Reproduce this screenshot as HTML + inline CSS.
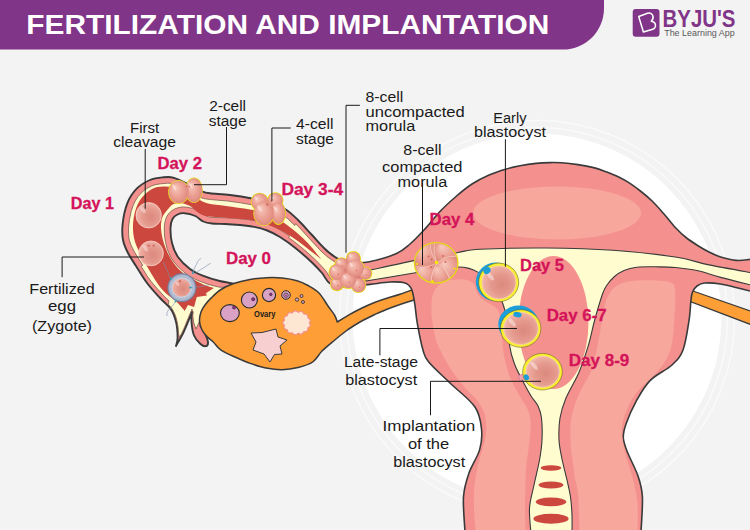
<!DOCTYPE html>
<html>
<head>
<meta charset="utf-8">
<title>Fertilization and Implantation</title>
<style>
html,body{margin:0;padding:0;background:#f3f3f3;}
body{width:750px;height:530px;overflow:hidden;position:relative;font-family:"Liberation Sans",sans-serif;}
svg{position:absolute;left:0;top:0;display:block;}
text{font-family:"Liberation Sans",sans-serif;}
.lb{font-size:15.500px;fill:#1a1a1a;}
.day{font-size:16.500px;font-weight:bold;fill:#d4145a;stroke:#d4145a;stroke-width:0.300px;}
.ld{fill:none;stroke:#1a1a1a;stroke-width:1;}
</style>
</head>
<body>
<svg width="750" height="530" viewBox="0 0 750 530">
<defs>
<radialGradient id="cell" cx="0.58" cy="0.56" r="0.64">
<stop offset="0" stop-color="#dc897d"/>
<stop offset="0.45" stop-color="#e4978b"/>
<stop offset="0.8" stop-color="#eeada1"/>
<stop offset="1" stop-color="#f5c3b8"/>
</radialGradient>
<radialGradient id="cell2" cx="0.5" cy="0.5" r="0.6" fx="0.3" fy="0.28">
<stop offset="0" stop-color="#f8cbc0"/>
<stop offset="0.5" stop-color="#eda497"/>
<stop offset="1" stop-color="#dc8176"/>
</radialGradient>
<radialGradient id="zona" cx="0.5" cy="0.5" r="0.5">
<stop offset="0.6" stop-color="#d5dbe8"/>
<stop offset="0.85" stop-color="#aeb9d0"/>
<stop offset="1" stop-color="#8c98b4"/>
</radialGradient>
</defs>

<!-- background -->
<rect width="750" height="530" fill="#f3f3f3"/>
<!-- watermark circle -->
<g id="wm">
<circle cx="537" cy="318" r="197.500" fill="none" stroke="#fafafa" stroke-width="1.500"/>
<circle cx="537" cy="318" r="190.500" fill="none" stroke="#fafafa" stroke-width="1.500"/>
<circle cx="537" cy="318" r="184.500" fill="#ffffff"/>
</g>

<!-- header -->
<path d="M0 0H604V8C604 31 586 49.600 562.700 49.600H0Z" fill="#813588"/>
<text x="26.300" y="34.300" font-size="28.200" font-weight="bold" fill="#ffffff" textLength="523" lengthAdjust="spacingAndGlyphs">FERTILIZATION AND IMPLANTATION</text>

<!-- logo -->
<g id="logo">
<rect x="632.700" y="9" width="26.800" height="27.700" rx="3" fill="#813588"/>
<path d="M638.700 16.500L647.500 13.300C652.500 11.800 655 17.500 651.300 21.200C656.500 22 657 28 652 29.500L643.400 32Z" fill="none" stroke="#ffffff" stroke-width="1.500" stroke-linejoin="round"/>
<text x="662.500" y="26.600" font-size="23" font-weight="bold" fill="#813588" textLength="73" lengthAdjust="spacingAndGlyphs">BYJU'S</text>
<text x="664.200" y="36" font-size="8.200" fill="#5a5a5a" textLength="70.500" lengthAdjust="spacingAndGlyphs">The Learning App</text>
</g>

<!-- DIAGRAM-START -->
<path d="M690 290L752 311.500V325L689 301Z" fill="#fd9f36" stroke="#3a3a3a" stroke-width="1.200"/>
<path d="M360 262C357.500 262 349.200 262.800 345 262C340.800 261.200 338.300 259.200 335 257C331.700 254.800 328.800 252.700 325 249C321.200 245.300 316.500 239.800 312 235C307.500 230.200 302.500 224.300 298 220C293.500 215.700 290 212 285 209C280 206 273.500 203.800 268 202C262.500 200.200 258.300 199.700 252 198.500C245.700 197.300 237 195.900 230 195C223 194.100 214.700 193.900 210 193.300C205.300 192.700 205.300 192.700 202 191.300C198.700 189.900 194.700 187.200 190 185C185.300 182.800 178.400 179.100 174 177.800C169.600 176.500 167.300 176.900 163.300 177.300C159.300 177.700 154.400 178.100 150 180C145.600 181.900 140.500 184.800 136.700 188.700C132.900 192.600 129.600 197.500 127.300 203.300C125 209.100 123.400 217.200 122.700 223.300C122 229.400 122.100 235.100 123 240C123.900 244.900 125.800 248.700 128 253C130.200 257.300 132.800 261 136 266C139.200 271 143 277.700 147 283C151 288.300 156.100 293.700 160 298C163.900 302.300 168 304.900 170.700 308.900C173.400 312.800 174.800 316.900 176 321.700C177.200 326.500 177.600 333.600 177.600 337.700C177.600 341.800 176.300 344.600 176 346C177.200 343.700 180.800 338 183.500 332.300C186.200 326.600 190.600 315.400 192 312C191.900 313.600 191.200 317.800 191.500 321.700C191.800 325.600 192.500 331.800 194 335.500C195.500 339.200 198.500 342.200 200.500 344C202.500 345.800 204.700 346.500 205.900 346.200C207.200 345.900 208.200 344.100 208 342C207.800 339.900 206.100 336.100 204.800 333.400C203.600 330.700 201.200 327.200 200.500 326L230 310L240 284.700C236.600 284.100 225.900 282.500 219.700 281C213.500 279.500 207.600 277.700 202.700 275.700C197.800 273.700 194.100 272.100 190 269C185.900 265.900 181 261.300 178 257C175 252.700 173.200 247.800 172 243C170.800 238.200 170.400 232 170.500 228C170.600 224 171.300 221.200 172.500 219C173.700 216.800 175.500 215.500 177.500 214.500C179.500 213.500 181.700 212.900 184.700 213.200C187.700 213.400 192.200 214.600 195.300 216C198.400 217.400 200.500 220.200 203.300 221.500C206.100 222.800 208.400 223.100 212 223.500C215.600 223.900 220.300 223.800 225 224C229.700 224.200 235.500 224.600 240 225C244.500 225.400 247.700 225.700 252 226.500C256.300 227.300 261.300 228.200 266 230C270.700 231.800 275 233.900 280 237C285 240.100 290.700 244.200 296 248.500C301.300 252.800 307.700 258.400 312 262.500C316.300 266.600 319 269.500 322 273C325 276.500 326.200 281.200 330 283.500C333.800 285.800 342.500 286.400 345 287L360 285L360 262Z" fill="#f4918e" stroke="#3a3a3a" stroke-width="1.900" stroke-linejoin="round"/>
<path d="M231.400 289.600L227.900 289L232 287L219.600 287.300L212 285.400L206 283.500L200.400 281.500L194.300 278.800L188.700 275.700L183.900 272.100L178.100 266.800L173.900 261.900L172 259.100L169.900 255.400L168.600 252.500L167.100 248.600L165.400 241.500L164.700 237.300L164.400 232.900L164.300 229L164.400 225.500L164.900 222.300L165.600 219.400L166.700 216.700L168 214.500L169.500 212.700L171.500 210.900L174.800 208.900L178.800 207.500L182.500 206.900L187.100 207.200L192.600 208.400L197.800 210.300L200.900 212.100L205.700 215.700L208.600 216.800L214.300 217.500L225.300 217.800L235.600 218.400L248.900 219.700L256.600 221.100L262.800 222.500L266.900 223.700L271.900 225.700L275.700 227.500L280.600 230.100L289.600 235.900L288.700 237.600L294.600 241.900L300.100 246.300L307.200 252.300L313.800 258.300L319.800 264.200L325.300 270.200L327 272.500L329.900 277.300L331.300 279.100L332.800 280.100L334.800 280.800L338.700 281.700L345.100 282.600L355.700 281.200L355.700 266.500L348.700 266.600L344.100 266.200L341.900 265.600L339.600 264.800L337.500 263.700L335 262.200L327.600 257L322 252.100L317.800 247.700L299.500 227.700L295.600 223.700L294.800 225.500L287.600 218.600L282.800 215L280.700 213.700L277.100 211.900L270.200 209.300L264.900 207.500L260.300 206.300L240.300 202.800L227.500 201L210.700 199.600L203.800 198.600L201.700 197.900L198.400 196.500L189.400 191.600L177.900 186L173.100 184L170.100 183.200L167.300 183.200L160.900 183.800L156.900 184.400L154.100 185.100L151.500 186.100L147.400 188.200L144.500 190.100L141.900 192.300L138 196.600L135.300 200.800L133.100 205.600L131.200 211.300L129.500 219.400L128.900 224L128.500 228.100L128.600 234.400L128.900 237.800L129.500 240.800L131.100 245.300L134 251.100L136.200 254.900L142.800 265.300L141 266.100L147.500 276.500L151.300 281.700L156.700 288.100L164 296.100L169 300.800L168.300 304.300L170.900 307.200L173 310.300L175 314.500L176.500 319L177.900 325.500L178.700 333.900L179.400 337.600L181.700 333.200L183.900 328.600L190.900 311.500L191.400 310.900L192 309L192.200 310.800L192.800 311.100L193.200 311.900L192.800 316L193.500 322L196 329L199.500 321L199.700 319.400L225.100 305.600Z" fill="#fffdd0" stroke="#6b4a44" stroke-width="0.700" stroke-linejoin="round"/>
<path d="M321 259C319.200 256.800 313.500 249.400 310 245.500C306.500 241.600 304.200 239.200 300 235.500C295.800 231.800 290.300 227.200 285 223.500C279.700 219.800 273.800 215.800 268 213.500C262.200 211.200 257 210.800 250 209.500C243 208.200 233 207 226 206C219 205 212.700 204.700 208 203.500C203.300 202.300 201.300 200.800 198 199C194.700 197.200 191.800 194.400 188 192.500C184.200 190.600 179.200 188.700 175 187.700C170.800 186.700 166.800 186.300 163 186.500C159.200 186.700 155.600 187.100 152 189C148.400 190.900 144.200 194.500 141.500 198C138.800 201.500 136.900 205.500 135.500 210C134.100 214.500 133.200 220 133 225C132.800 230 133.300 235.200 134.500 240C135.700 244.800 137.800 248.800 140 253.500C142.200 258.200 145.100 263 148 268C150.900 273 154.600 279.400 157.500 283.500C160.400 287.600 162.200 289.700 165.300 292.700C168.400 295.700 172.800 298.300 176 301.300C179.200 304.300 183.200 309.300 184.700 310.900L188 305L194.100 307.100L196.800 297L207 295.400L205.900 293.300L213.900 287.900C212 287.300 206.300 285.800 202.700 284.200C199 282.600 195.600 280.600 192 278.500C188.400 276.400 184.500 274.600 181 271.300C177.500 268.100 173.800 263.600 171 259C168.200 254.400 165.700 248.700 164 243.500C162.300 238.300 161.200 232.400 161 228C160.800 223.600 161.400 220 162.500 217C163.600 214 165.600 212.100 167.300 210C169 207.900 170.600 205.700 172.700 204.500C174.800 203.300 177.100 202.800 180 203C182.900 203.200 187 204.400 190 206C193 207.600 195.300 210.800 198 212.500C200.700 214.200 201.300 215.100 206 216C210.700 216.900 218.700 217.100 226 217.800C233.300 218.500 243.300 219 250 220C256.700 221 260.700 222.200 266 224C271.300 225.800 276.800 228.200 282 231C287.200 233.800 292.300 237.200 297 240.500C301.700 243.800 306 247.400 310 250.500C314 253.600 319.200 257.600 321 259Z" fill="#cc473e"/>
<path d="M337.300 322C336.900 320.900 336.200 318 334.700 315.300C333.100 312.600 330.600 309.700 328 306C325.400 302.300 322.300 296.400 319 293C315.700 289.600 311.700 287.600 308 285.500C304.300 283.400 301.300 281.900 297 280.700C292.700 279.400 287.100 278.500 282 278C276.900 277.500 272 277.400 266.700 277.700C261.400 277.900 255.600 278.500 250 279.500C244.400 280.500 237.800 282.100 233 283.800C228.200 285.500 224.600 287.200 221 289.500C217.400 291.800 214.200 295 211.500 297.600C208.800 300.200 206.800 302.600 205 305C203.200 307.400 201.900 309.400 201 312C200.100 314.600 199.400 317.800 199.500 320.600C199.600 323.400 200.300 326.300 201.600 329C202.800 331.700 205.100 334.400 207 336.600C208.900 338.800 211 339.800 213.300 342C215.600 344.200 217.100 347.300 220.700 349.800C224.300 352.300 229.900 354.700 235 357C240.100 359.300 245.800 361.800 251 363.600C256.200 365.400 260.800 367 266 368C271.200 369 276.700 369.800 282 369.700C287.300 369.600 292.900 368.800 298 367.500C303.100 366.200 308.700 364.800 312.700 362C316.700 359.200 318.600 354.400 322 351C325.400 347.600 328.900 344.900 333 341.500C337.100 338.100 342.200 333.800 346.700 330.500C351.200 327.200 355.600 324.600 360 322C364.400 319.400 368.800 317.300 373.300 315.200C377.800 313.100 382.600 311.100 387 309.300C391.400 307.500 394.500 306.400 400 304.500C405.500 302.600 416.700 299.100 420 298L416 288.500C413.300 289.500 405 292.600 400 294.300C395 296 390.400 297.100 386 298.500C381.600 299.900 377.500 301.300 373.300 303C369.100 304.700 365.100 306.500 361 308.500C356.900 310.500 352.900 312.600 349 314.800C345.100 317.100 339.200 320.800 337.300 322Z" fill="#fd9f36" stroke="#3a3a3a" stroke-width="1.500" stroke-linejoin="round"/>
<ellipse cx="229.900" cy="313.100" rx="9.400" ry="8.500" fill="#d9a2c4" stroke="#2a2a2a" stroke-width="1.100"/>
<circle cx="234.100" cy="307.500" r="1.600" fill="#a02c8c" stroke="#2a2a2a" stroke-width="0.600"/>
<ellipse cx="249.400" cy="300" rx="8" ry="8" fill="#d9a2c4" stroke="#2a2a2a" stroke-width="1.100"/>
<circle cx="253.200" cy="299.200" r="1.600" fill="#a02c8c" stroke="#2a2a2a" stroke-width="0.600"/>
<ellipse cx="269" cy="295" rx="6.600" ry="6.600" fill="#d9a2c4" stroke="#2a2a2a" stroke-width="1.100"/>
<circle cx="270.800" cy="294.400" r="1.300" fill="#a02c8c" stroke="#2a2a2a" stroke-width="0.600"/>
<circle cx="286" cy="295" r="4.300" fill="#d9a2c4" stroke="#2a2a2a" stroke-width="1"/>
<circle cx="286" cy="295.300" r="2.200" fill="#d9a2c4" stroke="#2a2a2a" stroke-width="0.700"/>
<circle cx="286" cy="295.500" r="0.900" fill="#a02c8c"/>
<circle cx="297" cy="299.600" r="1.700" fill="#d9a2c4" stroke="#2a2a2a" stroke-width="0.800"/>
<circle cx="301.500" cy="296" r="1.500" fill="#d9a2c4" stroke="#2a2a2a" stroke-width="0.800"/>
<circle cx="303" cy="302" r="1.500" fill="#d9a2c4" stroke="#2a2a2a" stroke-width="0.800"/>
<path d="M309.300 322.800Q312 326.100 307.900 327.700Q308.500 332 303.900 331.500Q302.300 335.700 298.200 333.300Q294.800 336.500 292.200 332.700Q287.700 334.200 287.300 329.800Q282.700 329.200 284.500 325.300Q280.900 322.800 284.500 320.300Q282.700 316.400 287.300 315.800Q287.700 311.400 292.200 312.900Q294.800 309.100 298.200 312.300Q302.300 309.900 303.900 314.100Q308.500 313.600 307.900 317.900Q312 319.500 309.300 322.800Z" fill="#fde6d2" stroke="#f58c8c" stroke-width="1.100" stroke-linejoin="round"/>
<path d="M251 333L262 332.500L276 329L278 337L287 340L280 346L282 354L274.500 354.500L270 362L264 354L253 350L256 342Z" fill="#f7cfd0" stroke="#3a3a3a" stroke-width="1" stroke-linejoin="round"/>
<text x="254" y="317" font-size="8.500" font-weight="bold" fill="#1a1a1a" textLength="21.500" lengthAdjust="spacingAndGlyphs">Ovary</text>
<path d="M352 262.500C354.700 262.400 360.700 263.400 368 262C375.300 260.600 389 256.800 396 253.800C403 250.800 405.300 248 410 244C414.700 240 419 235.400 424 230C429 224.600 434.700 217.100 440 211.500C445.300 205.900 450.700 201.100 456 196.500C461.300 191.900 466.700 187.500 472 184C477.300 180.500 482.400 178 488 175.500C493.600 173 500.300 170.800 505.600 169.200C510.900 167.600 514.900 166.800 520 165.800C525.100 164.800 531 163.900 536 163.400C541 162.900 545.700 162.700 550 162.600C554.300 162.500 556.900 162.500 561.600 162.800C566.300 163.100 572.700 163.800 578 164.600C583.300 165.400 588.900 166.400 593.600 167.600C598.300 168.800 601.700 170.200 606 171.800C610.300 173.400 615.200 175.300 619.200 177.200C623.200 179.100 626.400 181 630 183.400C633.600 185.800 637.200 188.500 641 191.500C644.800 194.500 648.800 197.800 652.600 201.500C656.400 205.200 660.200 209.700 664 214C667.800 218.300 671.600 223.600 675.300 227.500C679 231.400 682.200 234.500 686 237.500C689.800 240.500 694.200 243.300 698 245.700C701.800 248.100 705.200 250.100 709 252C712.800 253.900 716 255.600 720.600 257C725.200 258.400 731.200 260 736.400 260.400C741.600 260.800 749.400 259.400 752 259.200L752 291.500C749.300 290.800 741.200 288.800 736 287.500C730.800 286.200 725.800 284.800 720.600 284C715.400 283.200 708.600 282.700 704.700 283C700.800 283.300 699 284.500 697 286C695 287.500 693.500 289.700 692.500 292C691.500 294.300 691.600 295.200 691 300C690.400 304.800 690.300 312.400 689 320.700C687.700 329 685.800 342.600 683 350C680.200 357.400 677.500 359.900 672 365C666.500 370.100 656 374.500 650 380.600C644 386.700 640 394.400 636 401.600C632 408.800 628.100 417.900 626 424C623.900 430.100 623 433.200 623.300 438C623.600 442.800 625.200 446.500 627.700 452.800C630.200 459.100 635.500 468.700 638 476C640.500 483.300 641.900 487.500 642.400 496.800C642.900 506.100 641.200 526.100 641 532L465 532C464.800 526.100 462.800 506.600 463.500 496.800C464.200 487 466.300 480.800 469 473C471.700 465.200 477.500 457.200 479.600 449.900C481.700 442.600 482.300 436.100 481.500 429C480.700 421.900 480.200 414.700 475 407C469.800 399.300 457.700 390.500 450 383C442.300 375.500 433.200 367.500 428.700 362C424.200 356.500 424.900 356.400 423 350C421.100 343.600 418.700 331.100 417.300 323.300C415.900 315.500 415.700 309 414.700 303.300C413.700 297.600 413.100 292.400 411.500 289C409.900 285.600 408.600 284.200 405 283C401.400 281.800 395.800 281.800 390 282C384.200 282.200 376.300 283.700 370 284.400C363.700 285.100 355 285.700 352 286L352 262.500Z" fill="#f4918e" stroke="#3a3a3a" stroke-width="1.600" stroke-linejoin="round"/>
<ellipse cx="557" cy="213" rx="84" ry="26.600" fill="#f7a79c"/>
<path d="M476 534L526 534C525.800 529.600 525.100 515.600 525 507.400C524.900 499.200 525.300 492.100 525.500 485C525.700 477.900 525.800 471.700 526.400 465C527 458.300 528.300 452.100 529 445C529.700 437.900 531 428.700 530.700 422.500C530.400 416.300 529 412.600 527 408C525 403.400 521.800 400.200 519 395C516.200 389.800 512.400 383.200 510 377C507.600 370.800 505.800 364.200 504.500 358C503.200 351.800 502.700 346 502 340C501.300 334 501.200 327 500.500 322C499.800 317 499.800 313 498 310C496.200 307 492.700 305.800 490 304C487.300 302.200 484.200 301 482 299C479.800 297 477.800 294.400 476.500 292C475.200 289.600 476 286.500 474.400 284.500C472.800 282.500 469.900 280.800 467 280C464.100 279.200 460.500 279.300 457 279.500C453.500 279.700 449.300 279.800 446 281C442.700 282.200 439.200 284.500 437 287C434.800 289.500 433.400 292.800 432.500 296C431.600 299.200 431.600 302.200 431.500 306C431.400 309.800 431.200 313.300 432 319C432.800 324.700 434.400 334.300 436 340C437.600 345.700 439.400 348.300 441.700 353C444 357.700 446.800 363.100 450 368C453.200 372.900 458 378.900 461 382.700C464 386.500 465.500 388.300 468 391C470.500 393.700 473.500 395.800 476 399C478.500 402.200 481.300 406.100 483 410C484.700 413.900 485.900 417.500 486.200 422.500C486.500 427.500 486.400 432.900 485 440C483.600 447.100 479.800 457.500 478 465C476.200 472.500 475.200 477.900 474.500 485C473.800 492.100 473.800 499.200 474 507.400C474.200 515.600 475.700 529.600 476 534Z" fill="#f7a79c"/>
<path d="M637.600 534L579.600 534C579.300 527.400 578.800 503.700 578 494.400C577.200 485.100 575.800 483.100 575 478C574.200 472.900 573.700 469.300 573 463.800C572.300 458.300 571.200 451 570.800 445C570.400 439 570.200 433 570.400 428C570.600 423 571.100 419.200 572 415C572.900 410.800 573.800 407.200 575.500 402.700C577.200 398.200 579.500 393.100 582 388C584.500 382.900 588.600 377.200 590.800 372C593 366.800 593.700 362.100 595 357C596.300 351.900 597.400 346.700 598.400 341.500C599.400 336.300 600.100 331.100 601 326C601.900 320.900 602.500 315.700 603.500 311C604.500 306.300 605.300 301.800 607 298C608.700 294.200 610.900 290.600 613.700 288C616.500 285.400 620.200 283.800 624 282.500C627.800 281.200 631.900 280.800 636.600 280.400C641.300 280 646.900 280.100 652 280.300C657.100 280.500 663.500 280.800 667 281.400C670.500 282 671.700 282.700 673 283.800C674.300 284.900 674.400 285.300 674.800 288C675.200 290.700 675.200 296.200 675.200 300C675.200 303.800 675.300 304.100 674.800 311C674.300 317.900 673.600 333.700 672.300 341.500C671 349.300 669.500 352.900 667 358C664.500 363.100 660.300 368 657 372C653.700 376 650.400 378.600 647 382C643.600 385.400 639.600 388.700 636.600 392.500C633.600 396.300 631.100 400.800 629 405C626.900 409.200 625.100 414.200 623.900 418C622.700 421.800 622.200 424.600 622 428C621.800 431.400 621.700 433.600 622.400 438.300C623.100 443 624.500 450.100 626 456C627.500 461.900 629.900 468.300 631.500 474C633.100 479.700 634.500 484.900 635.500 490C636.500 495.100 637.200 497.300 637.600 504.600C638 511.900 637.600 529.100 637.600 534Z" fill="#f7a79c"/>
<path id="cavity" d="M366 271C374 269.300 398.800 263.700 414 260.600C429.200 257.600 446 254.600 457 252.700C468 250.800 465.100 250.100 480 249.300C494.900 248.500 524.500 247.800 546.700 248C568.900 248.200 591.600 248.800 613 250.300C634.400 251.800 659.300 254.600 675.300 257C691.300 259.400 696.200 262.300 709 264.900C721.800 267.500 744.800 271.500 752 272.800L752 285.300C746.800 284 729.600 279.800 720.600 277.400C711.600 275 705.500 272.400 698 270.800C690.500 269.200 682.500 268.200 675.300 267.500C668.100 266.800 661.400 266.900 655 266.800C648.600 266.800 641.900 266.600 636.700 267.200C631.500 267.800 627.700 268.900 624 270.500C620.300 272.100 617.300 274.100 614.500 276.500C611.700 278.900 609 282.100 607 285C605 287.900 604.500 288.200 602.500 294C600.500 299.800 597.100 311.200 594.700 320C592.300 328.800 590.700 337.900 588 346.700C585.300 355.500 582.400 364.400 578.700 373C575 381.600 569.100 390.500 566 398C562.900 405.500 561.200 411 560 418C558.800 425 558.700 433.200 559 440C559.300 446.800 560.700 452.300 562 459C563.300 465.700 565.600 473.700 567 480C568.400 486.300 569.700 491.200 570.500 497C571.300 502.800 571.800 508.800 572 515C572.200 521.200 572 530.800 572 534L531 534C530.800 529.700 529 516.200 529.500 508C530 499.800 532.300 493.200 534 485C535.700 476.800 538.400 466.500 539.700 459C541 451.500 541.700 446.800 542 440C542.300 433.200 542.200 423.700 541.500 418C540.800 412.300 539.800 409.700 538 406C536.200 402.300 533.500 400.100 531 396C528.500 391.900 525.800 386.800 523 381.500C520.200 376.200 516.800 370.100 514.500 364C512.200 357.900 510.600 352.400 509.500 345C508.400 337.600 508.800 325.600 508 319.800C507.200 314 505.800 313.100 504.800 310C503.800 306.900 503.300 304.700 502 301.500C500.700 298.300 499.300 294.700 497 291C494.700 287.300 491.100 282.600 488 279.500C484.900 276.400 481.500 274.200 478.300 272.400C475.100 270.500 472.400 269.300 469 268.400C465.600 267.500 462.600 266.900 457.800 267C453 267.100 447.300 268 440 269C432.700 270 426.300 271 414 273C401.700 275 374 279.700 366 281L366 271Z" fill="#fffdd0" stroke="#3a3a3a" stroke-width="1.100" stroke-linejoin="round"/>
<clipPath id="cavclip"><path d="M366 271C374 269.300 398.800 263.700 414 260.600C429.200 257.600 446 254.600 457 252.700C468 250.800 465.100 250.100 480 249.300C494.900 248.500 524.500 247.800 546.700 248C568.900 248.200 591.600 248.800 613 250.300C634.400 251.800 659.300 254.600 675.300 257C691.300 259.400 696.200 262.300 709 264.900C721.800 267.500 744.800 271.500 752 272.800L752 285.300C746.800 284 729.600 279.800 720.600 277.400C711.600 275 705.500 272.400 698 270.800C690.500 269.200 682.500 268.200 675.300 267.500C668.100 266.800 661.400 266.900 655 266.800C648.600 266.800 641.900 266.600 636.700 267.200C631.500 267.800 627.700 268.900 624 270.500C620.300 272.100 617.300 274.100 614.500 276.500C611.700 278.900 609 282.100 607 285C605 287.900 604.500 288.200 602.500 294C600.500 299.800 597.100 311.200 594.700 320C592.300 328.800 590.700 337.900 588 346.700C585.300 355.500 582.400 364.400 578.700 373C575 381.600 569.100 390.500 566 398C562.900 405.500 561.200 411 560 418C558.800 425 558.700 433.200 559 440C559.300 446.800 560.700 452.300 562 459C563.300 465.700 565.600 473.700 567 480C568.400 486.300 569.700 491.200 570.500 497C571.300 502.800 571.800 508.800 572 515C572.200 521.200 572 530.800 572 534L531 534C530.800 529.700 529 516.200 529.500 508C530 499.800 532.300 493.200 534 485C535.700 476.800 538.400 466.500 539.700 459C541 451.500 541.700 446.800 542 440C542.300 433.200 542.200 423.700 541.500 418C540.800 412.300 539.800 409.700 538 406C536.200 402.300 533.500 400.100 531 396C528.500 391.900 525.800 386.800 523 381.500C520.200 376.200 516.800 370.100 514.500 364C512.200 357.900 510.600 352.400 509.500 345C508.400 337.600 508.800 325.600 508 319.800C507.200 314 505.800 313.100 504.800 310C503.800 306.900 503.300 304.700 502 301.500C500.700 298.300 499.300 294.700 497 291C494.700 287.300 491.100 282.600 488 279.500C484.900 276.400 481.500 274.200 478.300 272.400C475.100 270.500 472.400 269.300 469 268.400C465.600 267.500 462.600 266.900 457.800 267C453 267.100 447.300 268 440 269C432.700 270 426.300 271 414 273C401.700 275 374 279.700 366 281L366 271Z"/></clipPath>
<ellipse cx="553.500" cy="322.500" rx="35" ry="66.500" fill="#f4918e" clip-path="url(#cavclip)"/>
<ellipse cx="551" cy="468" rx="10.300" ry="2.700" fill="#cc473e"/>
<ellipse cx="551" cy="485" rx="12.400" ry="3.500" fill="#cc473e"/>
<ellipse cx="551" cy="501.800" rx="15.300" ry="4.400" fill="#cc473e"/>
<ellipse cx="551" cy="518.800" rx="17.600" ry="5" fill="#cc473e"/>


<ellipse cx="151" cy="253.400" rx="12.400" ry="12.400" fill="url(#cell)" stroke="#f6d3cb" stroke-width="0.800"/>
<ellipse cx="145.400" cy="248.200" rx="1.700" ry="3.700" fill="#ffffff" opacity="0.350" transform="rotate(-35 145.400 248.200)"/>
<circle cx="148.600" cy="245.600" r="1.200" fill="#cf6a62" opacity="0.850"/>
<circle cx="153.600" cy="245.600" r="1.200" fill="#cf6a62" opacity="0.850"/>
<ellipse cx="148.700" cy="215.300" rx="12.700" ry="12.700" fill="url(#cell)" stroke="#f6d3cb" stroke-width="0.800"/>
<ellipse cx="143" cy="210" rx="1.800" ry="3.800" fill="#ffffff" opacity="0.350" transform="rotate(-35 143 210)"/>
<g>
<ellipse cx="178.700" cy="192" rx="10.600" ry="12" fill="#e6dc1e"/>
<ellipse cx="194" cy="190.300" rx="8.900" ry="12.800" fill="#e6dc1e"/>
<ellipse cx="194" cy="190.300" rx="8.200" ry="12.100" fill="url(#cell2)"/>
<ellipse cx="190.300" cy="185.200" rx="1.100" ry="3.600" fill="#ffffff" opacity="0.350" transform="rotate(-35 190.300 185.200)"/>
<ellipse cx="178.700" cy="192" rx="9.900" ry="11.300" fill="url(#cell2)"/>
<ellipse cx="174.200" cy="187.300" rx="1.400" ry="3.400" fill="#ffffff" opacity="0.350" transform="rotate(-35 174.200 187.300)"/>
<circle cx="186.600" cy="186.200" r="0.900" fill="#cf6a62" opacity="0.850"/>
<circle cx="189.300" cy="186.600" r="0.900" fill="#cf6a62" opacity="0.850"/>
</g>
<g>
<ellipse cx="259.700" cy="201.800" rx="9.100" ry="9.100" fill="#e6dc1e"/>
<ellipse cx="275.300" cy="200.400" rx="8.200" ry="8.200" fill="#e6dc1e"/>
<ellipse cx="278.400" cy="213.200" rx="7.600" ry="11.700" fill="#e6dc1e"/>
<ellipse cx="263.900" cy="213.200" rx="10.700" ry="12.800" fill="#e6dc1e"/>
<ellipse cx="259.700" cy="201.800" rx="8.300" ry="8.300" fill="url(#cell2)"/>
<ellipse cx="256" cy="198.300" rx="1.200" ry="2.500" fill="#ffffff" opacity="0.350" transform="rotate(-35 256 198.300)"/>
<ellipse cx="275.300" cy="200.400" rx="7.400" ry="7.400" fill="url(#cell2)"/>
<ellipse cx="272" cy="197.300" rx="1" ry="2.200" fill="#ffffff" opacity="0.350" transform="rotate(-35 272 197.300)"/>
<ellipse cx="278.400" cy="213.200" rx="6.800" ry="10.900" fill="url(#cell2)"/>
<ellipse cx="275.300" cy="208.600" rx="1" ry="3.300" fill="#ffffff" opacity="0.350" transform="rotate(-35 275.300 208.600)"/>
<ellipse cx="263.900" cy="213.200" rx="9.900" ry="12" fill="url(#cell2)"/>
<ellipse cx="259.400" cy="208.200" rx="1.400" ry="3.600" fill="#ffffff" opacity="0.350" transform="rotate(-35 259.400 208.200)"/>
<circle cx="267.300" cy="204.600" r="1.300" fill="#cf6a62" opacity="0.850"/>
<circle cx="271.200" cy="201.300" r="0.900" fill="#cf6a62" opacity="0.850"/>
</g>
<g>
<circle cx="337" cy="284.200" r="7" fill="#e6dc1e"/>
<circle cx="358.500" cy="285.300" r="7.800" fill="#e6dc1e"/>
<circle cx="365.300" cy="273.400" r="7" fill="#e6dc1e"/>
<circle cx="341.500" cy="264.300" r="7" fill="#e6dc1e"/>
<circle cx="353.400" cy="258.700" r="7.600" fill="#e6dc1e"/>
<circle cx="337" cy="272.300" r="8.500" fill="#e6dc1e"/>
<circle cx="348.300" cy="280.200" r="8.800" fill="#e6dc1e"/>
<circle cx="355.100" cy="268.300" r="9.600" fill="#e6dc1e"/>
<circle cx="350" cy="272.500" r="14" fill="#dc8077"/>
<ellipse cx="337" cy="284.200" rx="6.200" ry="6.200" fill="url(#cell2)"/>
<ellipse cx="334.200" cy="281.600" rx="0.900" ry="1.900" fill="#ffffff" opacity="0.350" transform="rotate(-35 334.200 281.600)"/>
<circle cx="337.900" cy="285.800" r="0.700" fill="#d8645a" opacity="0.850"/>
<ellipse cx="358.500" cy="285.300" rx="7" ry="7" fill="url(#cell2)"/>
<ellipse cx="355.400" cy="282.400" rx="1" ry="2.100" fill="#ffffff" opacity="0.350" transform="rotate(-35 355.400 282.400)"/>
<circle cx="359.600" cy="287.100" r="0.700" fill="#d8645a" opacity="0.850"/>
<ellipse cx="365.300" cy="273.400" rx="6.200" ry="6.200" fill="url(#cell2)"/>
<ellipse cx="362.500" cy="270.800" rx="0.900" ry="1.900" fill="#ffffff" opacity="0.350" transform="rotate(-35 362.500 270.800)"/>
<circle cx="366.200" cy="274.900" r="0.700" fill="#d8645a" opacity="0.850"/>
<ellipse cx="341.500" cy="264.300" rx="6.200" ry="6.200" fill="url(#cell2)"/>
<ellipse cx="338.700" cy="261.700" rx="0.900" ry="1.900" fill="#ffffff" opacity="0.350" transform="rotate(-35 338.700 261.700)"/>
<circle cx="342.400" cy="265.900" r="0.700" fill="#d8645a" opacity="0.850"/>
<ellipse cx="353.400" cy="258.700" rx="6.800" ry="6.800" fill="url(#cell2)"/>
<ellipse cx="350.300" cy="255.800" rx="1" ry="2" fill="#ffffff" opacity="0.350" transform="rotate(-35 350.300 255.800)"/>
<circle cx="354.400" cy="260.400" r="0.700" fill="#d8645a" opacity="0.850"/>
<ellipse cx="337" cy="272.300" rx="7.700" ry="7.700" fill="url(#cell2)"/>
<ellipse cx="333.500" cy="269.100" rx="1.100" ry="2.300" fill="#ffffff" opacity="0.350" transform="rotate(-35 333.500 269.100)"/>
<circle cx="338.200" cy="274.200" r="0.700" fill="#d8645a" opacity="0.850"/>
<ellipse cx="348.300" cy="280.200" rx="8" ry="8" fill="url(#cell2)"/>
<ellipse cx="344.700" cy="276.800" rx="1.100" ry="2.400" fill="#ffffff" opacity="0.350" transform="rotate(-35 344.700 276.800)"/>
<circle cx="349.500" cy="282.200" r="0.700" fill="#d8645a" opacity="0.850"/>
<ellipse cx="355.100" cy="268.300" rx="8.800" ry="8.800" fill="url(#cell2)"/>
<ellipse cx="351.100" cy="264.600" rx="1.200" ry="2.600" fill="#ffffff" opacity="0.350" transform="rotate(-35 351.100 264.600)"/>
<circle cx="356.400" cy="270.500" r="0.700" fill="#d8645a" opacity="0.850"/>
</g>
<g>
<ellipse cx="436.200" cy="262.900" rx="21.700" ry="20.100" fill="#e6998d" stroke="#e4d818" stroke-width="1.400"/>
<clipPath id="cmclip"><ellipse cx="436.200" cy="262.900" rx="21" ry="19.400"/></clipPath>
<g clip-path="url(#cmclip)">
<path d="M437 263C432 256 429 249 431 240C420 243 412 253 414 266C420 270 429 268 437 263Z" fill="url(#cell2)" stroke="#f6cfc6" stroke-width="0.700"/>
<path d="M437 263C434 255 433 247 436 240C447 240 456 247 459 256C452 256 444 258 437 263Z" fill="url(#cell2)" stroke="#f6cfc6" stroke-width="0.700"/>
<path d="M437 263C444 257 452 255 460 257C461 267 458 276 451 282C449 274 444 267 437 263Z" fill="url(#cell2)" stroke="#f6cfc6" stroke-width="0.700"/>
<path d="M437 263C444 267 449 274 450 283C444 286 437 286 431 284C431 276 433 269 437 263Z" fill="url(#cell2)" stroke="#f6cfc6" stroke-width="0.700"/>
<path d="M437 263C433 269 431 276 431 285C422 283 415 275 414 266C421 268 430 267 437 263Z" fill="url(#cell2)" stroke="#f6cfc6" stroke-width="0.700"/>
</g>
<circle cx="428.500" cy="256.500" r="1" fill="#cf5e54" opacity="0.850"/>
<circle cx="431.500" cy="259.500" r="1" fill="#cf5e54" opacity="0.850"/>
<circle cx="443" cy="256" r="1" fill="#cf5e54" opacity="0.850"/>
<circle cx="445.500" cy="262" r="1" fill="#cf5e54" opacity="0.850"/>
<circle cx="431" cy="267" r="1" fill="#cf5e54" opacity="0.850"/>
<circle cx="436.500" cy="262.500" r="1.800" fill="#f6e600"/>
<circle cx="417" cy="264" r="1.100" fill="#f6e600"/>
<circle cx="454.500" cy="268.500" r="1.100" fill="#f6e600"/>
<circle cx="432.500" cy="281.300" r="1.200" fill="#f6e600"/>
</g>
<ellipse cx="495.800" cy="281.800" rx="20" ry="19.300" fill="#1c9ed8"/>
<ellipse cx="498.700" cy="282.400" rx="20" ry="19.300" fill="#fbee2f" stroke="#55521e" stroke-width="0.500"/>
<ellipse cx="498.900" cy="282.400" rx="17" ry="16.500" fill="url(#cell)" stroke="#f1d2b8" stroke-width="0.800"/>
<ellipse cx="490.300" cy="276.200" rx="2" ry="5.200" fill="#ffffff" opacity="0.400" transform="rotate(-40 490.300 276.200)"/>
<ellipse cx="487" cy="270.500" rx="3.800" ry="3.200" fill="#1c9ed8" transform="rotate(-40 487 270.500)"/>
<ellipse cx="518.500" cy="324.300" rx="20.200" ry="18.800" fill="#1c9ed8"/>
<ellipse cx="520.700" cy="328.500" rx="20.200" ry="18.800" fill="#fbee2f" stroke="#55521e" stroke-width="0.500"/>
<ellipse cx="520.900" cy="328.500" rx="17.200" ry="16" fill="url(#cell)" stroke="#f1d2b8" stroke-width="0.800"/>
<ellipse cx="512.200" cy="322.500" rx="2" ry="5.100" fill="#ffffff" opacity="0.400" transform="rotate(-40 512.200 322.500)"/>
<ellipse cx="517.500" cy="314.600" rx="4.200" ry="2.700" fill="#1c9ed8" transform="rotate(8 517.500 314.600)"/>
<path d="M518.500 375.500L523.500 373.800L524.500 380L519.500 380.500Z" fill="#f4a0b0" stroke="#b86a80" stroke-width="0.500"/>
<ellipse cx="542.500" cy="371.700" rx="19.800" ry="18.300" fill="#fbee2f" stroke="#55521e" stroke-width="0.500"/>
<ellipse cx="542.700" cy="371.700" rx="16.800" ry="15.500" fill="url(#cell)" stroke="#f1d2b8" stroke-width="0.800"/>
<ellipse cx="534.200" cy="365.800" rx="2" ry="4.900" fill="#ffffff" opacity="0.400" transform="rotate(-40 534.200 365.800)"/>
<ellipse cx="526.400" cy="377.200" rx="3.100" ry="2.400" fill="#1c9ed8" transform="rotate(60 526.400 377.200)"/>
<g>
<path d="M170.500 278C168 272 165 267 163.500 262M176 300.500C174 305 171 307 168.500 310C167 312 166.500 314 167 316M193 272.500C194 268 196 265.500 197.500 262C198.500 260 199.500 259 201 258.500M195 274C199 270 202 269 205 267C207 265.500 208.500 264 210.500 263.500M191 287.500C195 286 198 287.500 202 286.500C205 285.500 207 285 209 285" fill="none" stroke="#7f8fb0" stroke-width="0.700" opacity="0.900"/>
<circle cx="181.900" cy="287.700" r="14.200" fill="url(#zona)" stroke="#6c7894" stroke-width="0.800"/>
<circle cx="181.900" cy="287.700" r="10.600" fill="none" stroke="#8e9ab8" stroke-width="0.600" stroke-dasharray="0.800 0.800"/>
<ellipse cx="181.500" cy="287.700" rx="9.400" ry="9.400" fill="url(#cell)" stroke="#c9cfe0" stroke-width="0.700"/>
<ellipse cx="177.300" cy="283.800" rx="1.300" ry="2.800" fill="#ffffff" opacity="0.350" transform="rotate(-35 177.300 283.800)"/>
<circle cx="180" cy="281.200" r="1.200" fill="#cf6a62" opacity="0.850"/>
<ellipse cx="170.800" cy="278.500" rx="0.900" ry="1.600" fill="#3fa0b8" transform="rotate(-25 170.800 278.500)"/>
<ellipse cx="175.700" cy="301" rx="0.900" ry="1.600" fill="#3fa0b8" transform="rotate(25 175.700 301)"/>
<ellipse cx="193" cy="272.800" rx="0.900" ry="1.600" fill="#3fa0b8" transform="rotate(20 193 272.800)"/>
<ellipse cx="190.500" cy="287.500" rx="1.500" ry="0.900" fill="#3fa0b8"/>
</g>

<path class="ld" d="M145.200 149V208.700M226.500 127V184.700H194M290.800 128H271.900V201M359.900 105.300H346V252.700M422.500 183V265M505.400 139.200V266.700M62.100 277.200V257H144M379.900 355.300V328.500H517M430.500 415.300V381.300H541"/>
<text class="lb" x="130" y="133.200" textLength="29.300" lengthAdjust="spacingAndGlyphs">First</text>
<text class="lb" x="113.200" y="147.300" textLength="62.700" lengthAdjust="spacingAndGlyphs">cleavage</text>
<text class="lb" x="209.200" y="111.300" textLength="36.800" lengthAdjust="spacingAndGlyphs">2-cell</text>
<text class="lb" x="208.700" y="125.500" textLength="37.800" lengthAdjust="spacingAndGlyphs">stage</text>
<text class="lb" x="296" y="129.300" textLength="37.500" lengthAdjust="spacingAndGlyphs">4-cell</text>
<text class="lb" x="296" y="143.500" textLength="38" lengthAdjust="spacingAndGlyphs">stage</text>
<text class="lb" x="365.500" y="102.400" textLength="37.800" lengthAdjust="spacingAndGlyphs">8-cell</text>
<text class="lb" x="365.500" y="116.500" textLength="99.200" lengthAdjust="spacingAndGlyphs">uncompacted</text>
<text class="lb" x="365.500" y="130.700" textLength="49.800" lengthAdjust="spacingAndGlyphs">morula</text>
<text class="lb" x="403.300" y="155.200" textLength="38.200" lengthAdjust="spacingAndGlyphs">8-cell</text>
<text class="lb" x="382" y="171.500" textLength="80.500" lengthAdjust="spacingAndGlyphs">compacted</text>
<text class="lb" x="397.500" y="187.200" textLength="49.800" lengthAdjust="spacingAndGlyphs">morula</text>
<text class="lb" x="493.200" y="122.700" textLength="33.300" lengthAdjust="spacingAndGlyphs">Early</text>
<text class="lb" x="474" y="136.800" textLength="72" lengthAdjust="spacingAndGlyphs">blastocyst</text>
<text class="lb" x="29.300" y="293.500" textLength="65.400" lengthAdjust="spacingAndGlyphs">Fertilized</text>
<text class="lb" x="48" y="311.300" textLength="28" lengthAdjust="spacingAndGlyphs">egg</text>
<text class="lb" x="32" y="330.800" textLength="60" lengthAdjust="spacingAndGlyphs">(Zygote)</text>
<text class="lb" x="343.900" y="366.500" textLength="74.100" lengthAdjust="spacingAndGlyphs">Late-stage</text>
<text class="lb" x="345.200" y="384.700" textLength="72" lengthAdjust="spacingAndGlyphs">blastocyst</text>
<text class="lb" x="382.500" y="430.800" textLength="92.800" lengthAdjust="spacingAndGlyphs">Implantation</text>
<text class="lb" x="407.900" y="448.700" textLength="41.300" lengthAdjust="spacingAndGlyphs">of the</text>
<text class="lb" x="393.200" y="466.500" textLength="72" lengthAdjust="spacingAndGlyphs">blastocyst</text>
<text class="day" x="70.800" y="209.200" textLength="43.200" lengthAdjust="spacingAndGlyphs">Day 1</text>
<text class="day" x="157.500" y="169.200" textLength="44.500" lengthAdjust="spacingAndGlyphs">Day 2</text>
<text class="day" x="281.400" y="194.500" textLength="61.800" lengthAdjust="spacingAndGlyphs">Day 3-4</text>
<text class="day" x="226" y="264" textLength="45" lengthAdjust="spacingAndGlyphs">Day 0</text>
<text class="day" x="429.600" y="225.200" textLength="44.800" lengthAdjust="spacingAndGlyphs">Day 4</text>
<text class="day" x="520" y="271.400" textLength="44" lengthAdjust="spacingAndGlyphs">Day 5</text>
<text class="day" x="546.700" y="321.300" textLength="60" lengthAdjust="spacingAndGlyphs">Day 6-7</text>
<text class="day" x="568.800" y="365.900" textLength="60.500" lengthAdjust="spacingAndGlyphs">Day 8-9</text>

<!-- DIAGRAM-END -->

</svg>
</body>
</html>
